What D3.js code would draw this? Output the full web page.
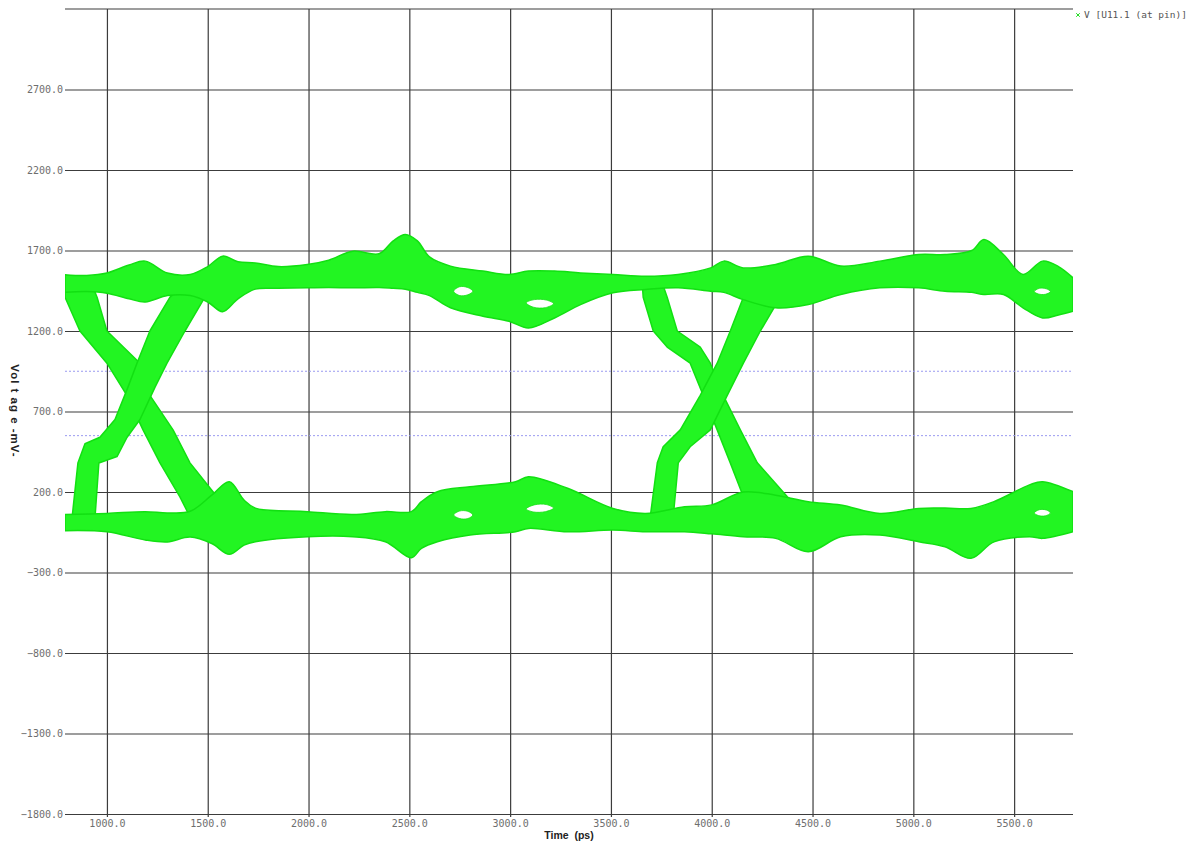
<!DOCTYPE html>
<html>
<head>
<meta charset="utf-8">
<script src="https://cdn.jsdelivr.net/npm/d3@7/dist/d3.min.js"></script>
<style>
  body { margin: 0; background: #fff; }
  svg { display: block; }
  .tick line { stroke: #3c3c3c; stroke-width: 1.2; }
  .tick text { font-family: "DejaVu Sans Mono", monospace; font-size: 10px; fill: #6e6e6e; }
  .title { font-family: "Liberation Sans", Arial, sans-serif; font-weight: bold; font-size: 10.5px; fill: #222; white-space: pre; }
  .legend { font-family: "DejaVu Sans Mono", monospace; font-size: 9.5px; fill: #555; white-space: pre; }
</style>
</head>
<body>
<script>
// ticks
var xTicks = [1000, 1500, 2000, 2500, 3000, 3500, 4000, 4500, 5000, 5500]
var yTicks = [-1800, -1300, -800, -300, 200, 700, 1200, 1700, 2200, 2700]
var thresholds = [950, 550]   // dashed levels, mV

// high and low level bands: [time ps, lower mV, upper mV]
var highBand = [
  [792, 1440, 1550], [900, 1445, 1545], [1000, 1435, 1560], [1110, 1400, 1610],
  [1190, 1380, 1634], [1300, 1420, 1560], [1413, 1420, 1551], [1500, 1380, 1600],
  [1574, 1320, 1665], [1650, 1400, 1630], [1736, 1460, 1623], [1850, 1465, 1600],
  [1994, 1468, 1613], [2100, 1470, 1640], [2220, 1468, 1696], [2350, 1470, 1680],
  [2420, 1465, 1760], [2480, 1460, 1800], [2540, 1440, 1760], [2600, 1420, 1660],
  [2704, 1344, 1603], [2865, 1292, 1572], [2994, 1261, 1551], [3091, 1219, 1572],
  [3220, 1281, 1572], [3349, 1364, 1561], [3510, 1437, 1551], [3672, 1458, 1540],
  [3833, 1468, 1551], [3995, 1447, 1592], [4060, 1440, 1634], [4156, 1395, 1592],
  [4317, 1344, 1613], [4479, 1364, 1665], [4640, 1427, 1603], [4834, 1468, 1634],
  [5027, 1468, 1675], [5157, 1447, 1675], [5290, 1440, 1700], [5350, 1427, 1768],
  [5447, 1427, 1675], [5544, 1344, 1551], [5641, 1281, 1634], [5720, 1300, 1600],
  [5792, 1323, 1530]
]
var lowBand = [
  [792, -40, 60], [1000, -47, 67], [1190, -98, 78], [1300, -110, 70],
  [1413, -80, 80], [1520, -120, 180], [1607, -187, 264], [1680, -130, 150],
  [1736, -109, 100], [1994, -78, 78], [2220, -78, 60], [2381, -109, 78],
  [2510, -208, 78], [2560, -150, 140], [2639, -109, 202], [2801, -67, 233],
  [3027, -47, 264], [3091, -26, 295], [3285, -47, 223], [3510, -36, 98],
  [3672, -47, 67], [3865, -47, 109], [4000, -60, 120], [4156, -78, 200],
  [4317, -88, 180], [4479, -171, 140], [4640, -78, 119], [4834, -67, 67],
  [5027, -109, 98], [5157, -140, 100], [5286, -212, 98], [5400, -110, 140],
  [5576, -78, 244], [5641, -88, 264], [5792, -47, 202]
]

// transition bundles, outlines as [time ps, mV]
var fall1Left  = [[792, 1500], [792, 1410], [866, 1200], [1000, 1000], [1099, 800], [1179, 586], [1263, 381], [1362, 170], [1412, 46]]
var fall1Right = [[916, 1520], [951, 1410], [1000, 1200], [1164, 1000], [1213, 800], [1328, 586], [1412, 381], [1546, 170], [1660, 46]]
var rise1Left  = [[826, 27], [856, 380], [891, 500], [965, 540], [1040, 650], [1104, 850], [1149, 1000], [1213, 1200], [1313, 1410], [1387, 1490]]
var rise1Right = [[940, 27], [960, 380], [1050, 420], [1100, 540], [1164, 650], [1238, 850], [1298, 1000], [1387, 1200], [1486, 1410], [1536, 1490]]
var fall2Left  = [[3655, 1500], [3660, 1410], [3710, 1200], [3779, 1100], [3893, 1000], [3958, 800], [4027, 586], [4092, 381], [4157, 170], [4226, 46]]
var fall2Right = [[3754, 1500], [3779, 1410], [3829, 1200], [3943, 1100], [3993, 1000], [4057, 800], [4142, 586], [4226, 381], [4375, 170], [4504, 46]]
var rise2Left  = [[3695, 46], [3730, 381], [3759, 481], [3844, 586], [3943, 800], [4027, 1000], [4092, 1200], [4157, 1410], [4226, 1500]]
var rise2Right = [[3809, 46], [3834, 381], [3893, 481], [3993, 586], [4077, 800], [4157, 1000], [4241, 1200], [4340, 1410], [4439, 1500]]

// open spots inside the bands
var holes = [
  [[2720, 1447], [2750, 1475], [2790, 1470], [2815, 1447], [2790, 1425], [2750, 1420]],
  [[3080, 1375], [3120, 1395], [3180, 1392], [3215, 1370], [3175, 1345], [3115, 1348]],
  [[2720, 57], [2750, 82], [2790, 80], [2815, 57], [2790, 35], [2750, 35]],
  [[3080, 95], [3120, 120], [3180, 122], [3215, 100], [3175, 78], [3115, 76]],
  [[5600, 1445], [5625, 1465], [5660, 1462], [5680, 1445], [5655, 1428], [5620, 1430]],
  [[5600, 70], [5625, 90], [5660, 88], [5680, 70], [5655, 52], [5620, 54]]
]

var legendLabel = "V [U11.1 (at pin)]"

var w = 1195
var h = 842
var pl = 65, pr = 1073, pt = 9, pb = 814   // plot box

var x = d3.scaleLinear().domain([792, 5792]).range([pl, pr])
var y = d3.scaleLinear().domain([-1800, 3200]).range([pb, pt])

var svg = d3.select("body").append("svg")
  .attr("width", w)
  .attr("height", h)

svg.append("defs").append("clipPath").attr("id", "plot")
  .append("rect")
  .attr("x", pl).attr("y", pt)
  .attr("width", pr - pl).attr("height", pb - pt)

// horizontal grid + y labels
var yAxis = svg.append("g")
  .attr("transform", "translate(" + pl + ",0)")
  .call(d3.axisLeft(y).tickValues(yTicks).tickFormat(d3.format(".1f"))
    .tickSize(-(pr - pl)).tickPadding(2))
yAxis.select(".domain").remove()

// vertical grid + x labels
var xAxis = svg.append("g")
  .attr("transform", "translate(0," + pb + ")")
  .call(d3.axisBottom(x).tickValues(xTicks).tickFormat(d3.format(".1f"))
    .tickSize(-(pb - pt)).tickPadding(6))
xAxis.select(".domain").remove()
xAxis.selectAll(".tick line").attr("y1", 3)
xAxis.selectAll(".tick text").attr("y", 6)

// top border
svg.append("line")
  .attr("x1", pl).attr("x2", pr)
  .attr("y1", y(3200)).attr("y2", y(3200))
  .attr("stroke", "#3c3c3c").attr("stroke-width", 1.2)

// threshold levels
svg.selectAll("line.thr")
  .data(thresholds)
  .enter()
  .append("line")
  .attr("class", "thr")
  .attr("x1", pl).attr("x2", pr)
  .attr("y1", function (d) { return y(d) })
  .attr("y2", function (d) { return y(d) })
  .attr("stroke", "#9a9af0")
  .attr("stroke-width", 1)
  .attr("stroke-dasharray", "2,2")

var eye = svg.append("g").attr("clip-path", "url(#plot)")

var green = "#22f522"
var greenEdge = "#12e012"

var band = d3.area()
  .x(function (d) { return x(d[0]) })
  .y0(function (d) { return y(d[1]) })
  .y1(function (d) { return y(d[2]) })
  .curve(d3.curveCatmullRom.alpha(0.5))

var outline = d3.line()
  .x(function (d) { return x(d[0]) })
  .y(function (d) { return y(d[1]) })
  .curve(d3.curveLinearClosed)

var bundles = [
  fall1Left.concat(fall1Right.slice().reverse()),
  rise1Left.concat(rise1Right.slice().reverse()),
  fall2Left.concat(fall2Right.slice().reverse()),
  rise2Left.concat(rise2Right.slice().reverse())
]

eye.selectAll("path.edge")
  .data(bundles)
  .enter()
  .append("path")
  .attr("class", "edge")
  .attr("d", outline)
  .attr("fill", green)
  .attr("stroke", greenEdge)
  .attr("stroke-width", 1.5)
  .attr("stroke-linejoin", "round")

eye.selectAll("path.band")
  .data([highBand, lowBand])
  .enter()
  .append("path")
  .attr("class", "band")
  .attr("d", band)
  .attr("fill", green)
  .attr("stroke", greenEdge)
  .attr("stroke-width", 1.5)

eye.selectAll("path.hole")
  .data(holes)
  .enter()
  .append("path")
  .attr("class", "hole")
  .attr("d", outline.curve(d3.curveCatmullRomClosed))
  .attr("fill", "#fff")
  .attr("stroke", greenEdge)
  .attr("stroke-width", 0.8)

// axis titles
svg.append("text")
  .attr("class", "title")
  .attr("x", 569).attr("y", 839)
  .attr("text-anchor", "middle")
  .text("Time  (ps)")

svg.append("text")
  .attr("class", "title")
  .attr("transform", "translate(11,411) rotate(90)")
  .attr("text-anchor", "middle")
  .style("font-size", "11.5px")
  .style("letter-spacing", "1px")
  .text("Vol t ag e -mV-")

// legend
svg.append("path")
  .attr("d", d3.symbol(d3.symbolX, 10))
  .attr("transform", "translate(1078,15)")
  .attr("stroke", "#22dd22")
  .attr("stroke-width", 1)
svg.append("text")
  .attr("class", "legend")
  .attr("x", 1084).attr("y", 18)
  .text(legendLabel)
</script>
</body>
</html>
